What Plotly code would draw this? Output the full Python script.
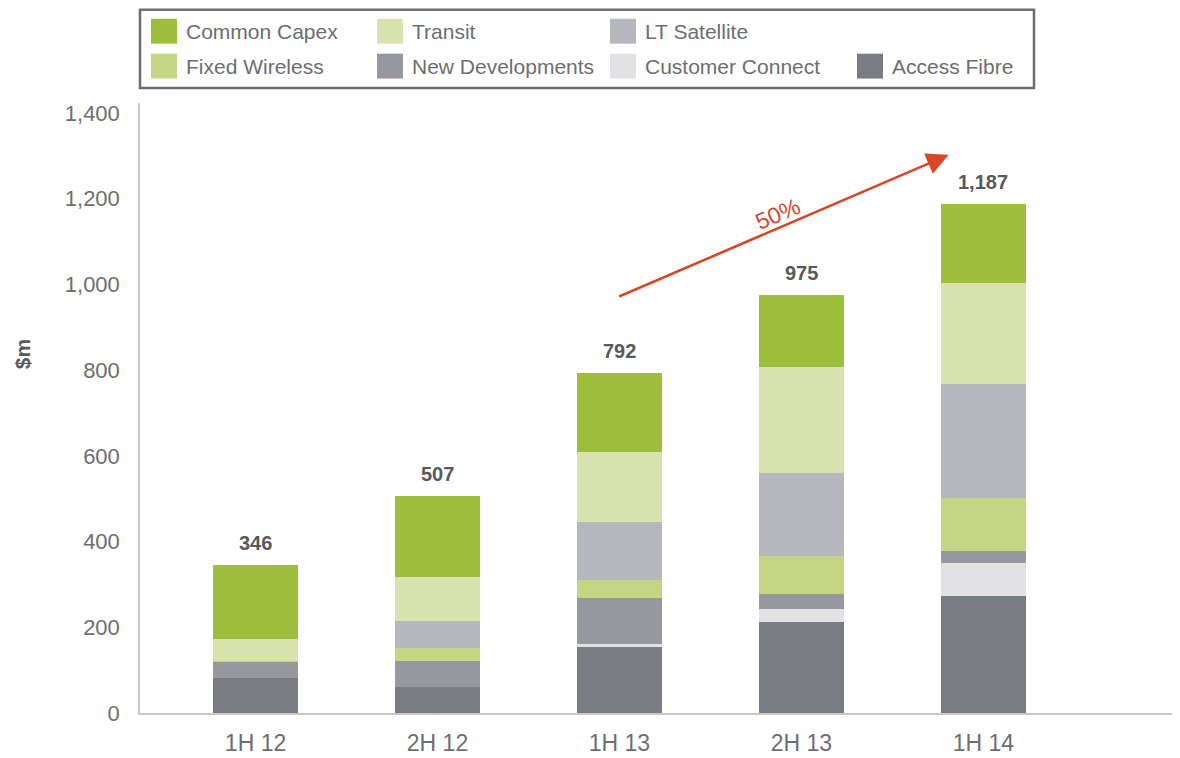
import plotly.graph_objects as go

categories = ["1H 12", "2H 12", "1H 13", "2H 13", "1H 14"]

# stacked from bottom to top
access_fibre = [81, 60, 153, 213, 273]
customer_connect = [0, 0, 8, 30, 77]
new_developments = [38, 61, 107, 34, 27]
fixed_wireless = [2, 30, 42, 90, 125]
lt_satellite = [0, 64, 136, 192, 265]
transit = [52, 103, 163, 247, 236]
common_capex = [173, 189, 183, 169, 184]

series_names = ["Access Fibre", "Customer Connect", "New Developments", "Fixed Wireless",
                "LT Satellite", "Transit", "Common Capex"]
series_values = [access_fibre, customer_connect, new_developments, fixed_wireless,
                 lt_satellite, transit, common_capex]
series_colors = ["#7a7c84", "#e2e2e5", "#97979f", "#c6d584",
                 "#b7b7c0", "#d9e3b0", "#9dbf3b"]

# legend layout (rows of names)
legend_rows = [["Common Capex", "Transit", "LT Satellite"],
               ["Fixed Wireless", "New Developments", "Customer Connect", "Access Fibre"]]

growth_label = "50%"
y_title = "$m"

totals = [sum(v[i] for v in series_values) for i in range(len(categories))]

FONT = "Liberation Sans, Arial, Helvetica, sans-serif"
OFF = 8  # page body margin
W, H = 1180 - OFF, 758 - OFF
pl, pr, pt, pb = 140 - OFF, 2, 103 - OFF, 43
pw, ph = W - pl - pr, H - pt - pb


def px_to_paper(x, y):
    """page pixel -> paper coords"""
    x -= OFF
    y -= OFF
    return (x - pl) / pw, (H - pb - y) / ph


fig = go.Figure()
for name, vals, col in zip(series_names, series_values, series_colors):
    fig.add_trace(go.Bar(
        x=list(range(len(categories))), y=vals, name=name,
        marker=dict(color=col, line=dict(width=0)),
        width=0.467, showlegend=False, hoverinfo="y+name",
    ))

for i, t in enumerate(totals):
    fig.add_annotation(x=i, y=t, text=f"<b>{t:,}</b>", showarrow=False,
                       yanchor="bottom", yshift=9,
                       font=dict(family=FONT, size=20, color="#58595b"))

# growth arrow
fig.add_annotation(x=3.81, y=1302, ax=1.99, ay=970, xref="x", yref="y", axref="x", ayref="y",
                   showarrow=True, arrowhead=2, arrowsize=1.7, arrowwidth=2.6,
                   arrowcolor="#d9472b", text="")
fig.add_annotation(x=2.87, y=1163, text=growth_label, showarrow=False, textangle=-23,
                   font=dict(family=FONT, size=23, color="#d9472b"))

# y title
tx, ty = px_to_paper(22, 355)
fig.add_annotation(xref="paper", yref="paper", x=tx, y=ty, text=y_title, showarrow=False,
                   textangle=-90, xanchor="center", yanchor="middle",
                   font=dict(family=FONT, size=21, color="#58595b", weight=600))

# custom legend
color_of = dict(zip(series_names, series_colors))
col_x = [151, 377, 610, 857]
row_y = [31, 66]
x0, y0 = px_to_paper(140, 9.5)
x1, y1 = px_to_paper(1034, 88)
fig.add_shape(type="rect", xref="paper", yref="paper", x0=x0, y0=y0, x1=x1, y1=y1,
              line=dict(color="#6d6e71", width=2.5), fillcolor="rgba(0,0,0,0)")
for r, row in enumerate(legend_rows):
    for c, nm in enumerate(row):
        sx0, sy0 = px_to_paper(col_x[c], row_y[r] - 12.5)
        sx1, sy1 = px_to_paper(col_x[c] + 26, row_y[r] + 12.5)
        fig.add_shape(type="rect", xref="paper", yref="paper", x0=sx0, y0=sy0, x1=sx1, y1=sy1,
                      line=dict(width=0), fillcolor=color_of[nm])
        lx, ly = px_to_paper(col_x[c] + 33, row_y[r])
        fig.add_annotation(xref="paper", yref="paper", x=lx, y=ly, text=nm, showarrow=False,
                           xanchor="left", yanchor="middle",
                           font=dict(family=FONT, size=21, color="#6d6e71"))

fig.update_layout(
    width=W, height=H,
    margin=dict(l=pl, r=pr, t=pt, b=pb, pad=0),
    plot_bgcolor="white", paper_bgcolor="white",
    barmode="stack",
    font=dict(family=FONT, color="#6d6e71"),
)
fig.update_xaxes(range=[-0.635, 5.07], tickmode="array", tickvals=list(range(len(categories))),
                 ticktext=categories, showgrid=False, showline=True, linecolor="#c8c8c8",
                 linewidth=1.5, ticks="outside", ticklen=9, tickcolor="rgba(0,0,0,0)",
                 zeroline=False,
                 tickfont=dict(family=FONT, size=23, color="#6d6e71"))
fig.update_yaxes(range=[0, 1423], tickvals=[0, 200, 400, 600, 800, 1000, 1200, 1400],
                 tickformat=",", showgrid=False, showline=True, linecolor="#c8c8c8",
                 linewidth=1.5, ticks="outside", ticklen=14, tickcolor="rgba(0,0,0,0)",
                 zeroline=False,
                 tickfont=dict(family=FONT, size=22, color="#6d6e71"))

fig.write_html("out.html")
